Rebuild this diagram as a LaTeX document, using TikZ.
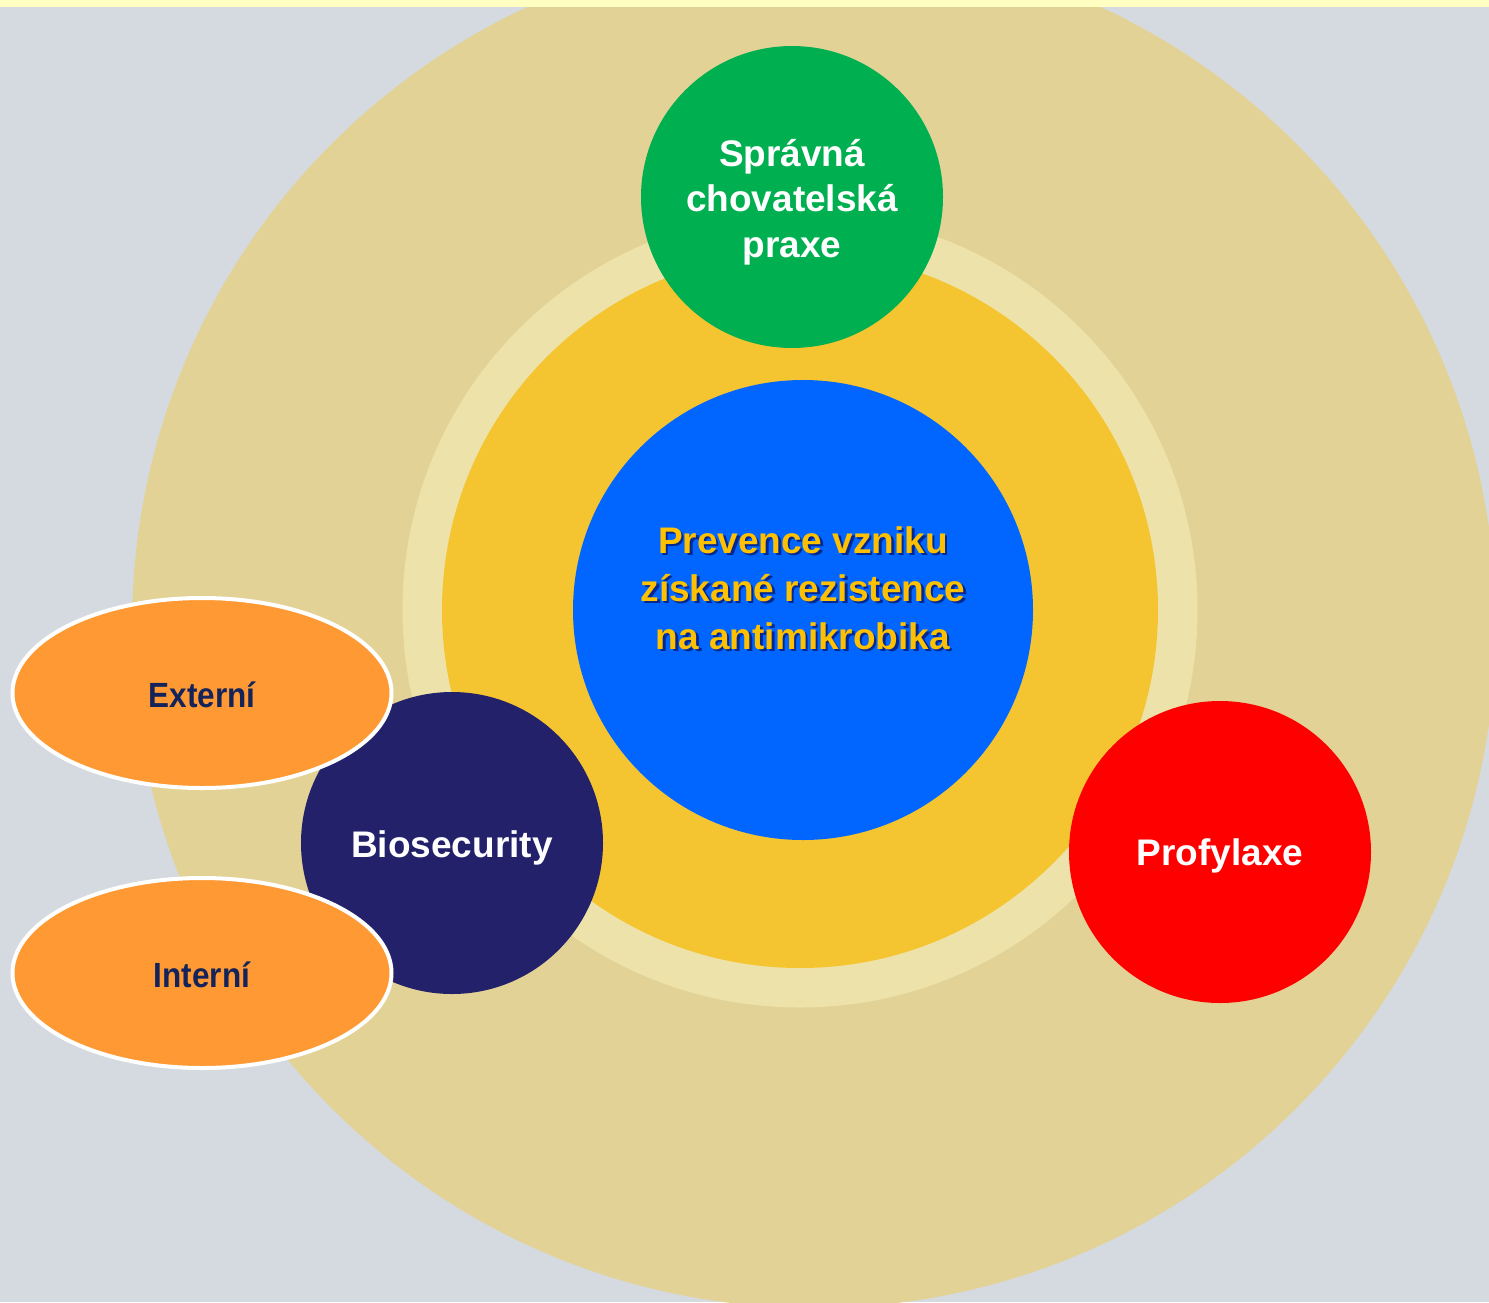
\documentclass[tikz,border=0pt]{standalone}
\usepackage{fontspec}
\setmainfont{Liberation Sans}
\newfontfamily\narrowfont[FakeStretch=0.9]{Liberation Sans}
\usetikzlibrary{shapes.geometric}
\definecolor{bggrey}{HTML}{D5DAE0}
\definecolor{tan}{HTML}{E3D296}
\definecolor{paleyel}{HTML}{EDE3AA}
\definecolor{sunyel}{HTML}{F5C431}
\definecolor{bluec}{HTML}{0066FF}
\definecolor{greenc}{HTML}{00B050}
\definecolor{redc}{HTML}{FF0000}
\definecolor{navyc}{HTML}{22216A}
\definecolor{orangec}{HTML}{FF9933}
\definecolor{textnavy}{HTML}{14245A}
\definecolor{goldtext}{HTML}{FFC000}
\definecolor{band}{HTML}{FFFFC2}
\begin{document}
\begin{tikzpicture}[x=1pt,y=-1pt,
  disc/.style={circle,inner sep=0pt,draw=none,minimum size=#1},
  bigtext/.style={font=\fontsize{37}{45.5}\selectfont\bfseries,align=center,text=white},
  oval/.style={ellipse,fill=orangec,draw=white,line width=4pt,minimum width=379pt,minimum height=190pt,inner sep=0pt},
  ovaltext/.style={font=\narrowfont\fontsize{35}{40}\selectfont\bfseries,text=textnavy}]
\useasboundingbox (0,0) rectangle (1489,1302);
\begin{scope}
\clip (0,0) rectangle (1489,1302);
\fill[bggrey] (0,0) rectangle (1489,1302);
\node[disc=1364pt,fill=tan] (outer) at (814,626) {};
\fill[band] (0,0) rectangle (1489,7);
\end{scope}
\node[disc=795pt,fill=paleyel] (ring) at (800,610) {};
\node[disc=716pt,fill=sunyel] (inner) at (800,610) {};
\node[disc=460pt,fill=bluec] (core) at (803,610) {};
\node[font=\fontsize{37}{48}\selectfont\bfseries,align=center,text=black!70!blue,opacity=0.6] (coreshadow) at (805.5,590.5) {Prevence vzniku\\získané rezistence\\na antimikrobika};
\node[font=\fontsize{37}{48}\selectfont\bfseries,align=center,text=goldtext] (coretext) at (803,588) {Prevence vzniku\\získané rezistence\\na antimikrobika};
\node[disc=302pt,fill=greenc] (praxe) at (792,197) {};
\node[bigtext] (praxetext) at (792,202) {Správná\\chovatelská\\praxe};
\node[disc=302pt,fill=redc] (profylaxe) at (1220,852) {};
\node[bigtext] (profylaxetext) at (1220,856) {Profylaxe};
\node[disc=302pt,fill=navyc] (bio) at (452,843) {};
\node[bigtext] (biotext) at (452,848) {Biosecurity};
\node[oval] (externi) at (202,693) {};
\node[ovaltext] (externitext) at (202,695) {Externí};
\node[oval] (interni) at (202,973) {};
\node[ovaltext] (internitext) at (202,975) {Interní};
\end{tikzpicture}
\end{document}
